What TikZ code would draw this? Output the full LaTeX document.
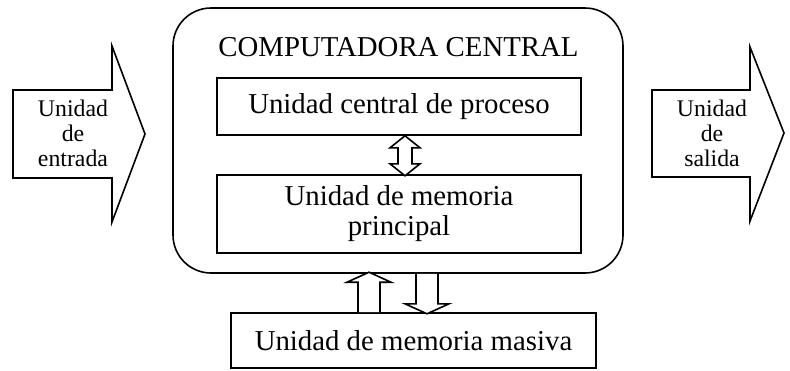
\documentclass[tikz,border=0pt]{standalone}
\usepackage{fontspec}
\setmainfont{Liberation Serif}
\usetikzlibrary{positioning}
\tikzset {
    trazo/.style={draw, line width=0.8pt},
    unidad/.style={trazo, rectangle, minimum width=182pt, inner sep=0pt,
        align=center, font=\fontsize{14.4}{15}\selectfont},
    chico/.style={align=center, inner sep=0pt, font=\fontsize{11.9}{12.5}\selectfont},
    hueca/.style={trazo, fill=white, line join=miter}
}
\begin{document}
\begin{tikzpicture}[x=0.5pt, y=-0.5pt]
\useasboundingbox (0,0) rectangle (790,370);

% computadora central
\node[trazo, rounded corners=19pt, minimum width=225pt, minimum height=132.5pt] (central) at (398,140.5) {};
\node[font=\fontsize{14.4}{15}\selectfont, inner sep=0pt] (titulo) at (398.5,47) {COMPUTADORA CENTRAL};
\node[unidad, minimum height=28.5pt] (cpu) at (399,106.5) {Unidad central de proceso};
\node[unidad, minimum height=39pt] (mem) at (399,214) {Unidad de memoria\\principal};
\node[unidad, minimum width=182.5pt, minimum height=27.5pt] (masiva) at (413.5,340.5) {Unidad de memoria masiva};

% entrada y salida
\draw[hueca] (13,90) -- (112,90) -- (112,46) -- (145,134) -- (112,222) -- (112,178) -- (13,178) -- cycle;
\node[chico] (entrada) at (73,133) {Unidad\\de\\entrada};
\draw[hueca] (652,90) -- (750,90) -- (750,47) -- (784,133) -- (750,221) -- (750,177) -- (652,177) -- cycle;
\node[chico] (salida) at (712,133) {Unidad\\de\\salida};

% cpu <-> memoria
\draw[hueca] ([xshift=3pt]cpu.south) -- ++(-15,12) -- ++(8,0) -- ++(0,16) -- ++(-8,0) -- ++(15,12)
    -- ++(15,-12) -- ++(-8,0) -- ++(0,-16) -- ++(8,0) -- cycle;

% memoria masiva
\draw[hueca] ([xshift=-22.25pt]masiva.north) ++(-11,0) -- ++(0,-30) -- ++(-11,0) -- ++(22,-10)
    -- ++(22,10) -- ++(-11,0) -- ++(0,30);
\draw[hueca] ([xshift=14.5pt]central.south) ++(-11,0) -- ++(0,30) -- ++(-11,0) -- ++(22,10)
    -- ++(22,-10) -- ++(-11,0) -- ++(0,-30);

\end{tikzpicture}
\end{document}
